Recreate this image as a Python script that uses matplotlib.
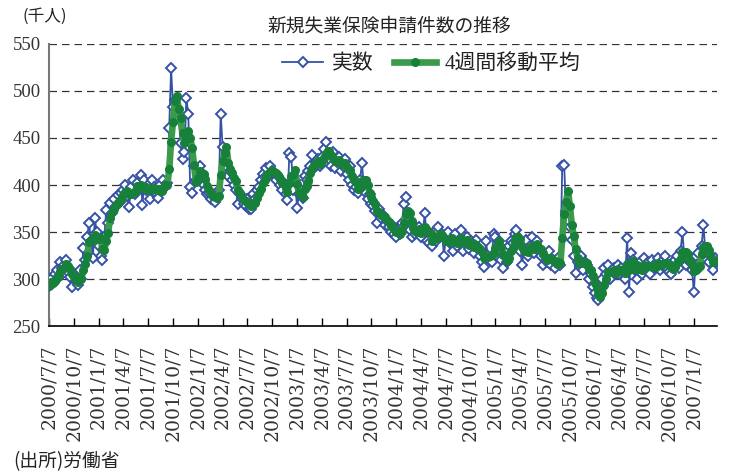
import numpy as np
import pandas as pd
import matplotlib.pyplot as plt

# weekly initial claims (thousand persons), 2000/7/7 onward
q2000_07 = [293, 300, 296, 305, 310, 302, 318, 312, 315, 320, 308, 302, 292]
q2000_10 = [305, 298, 294, 310, 300, 333, 320, 345, 360, 340, 322, 365, 350]
q2001_01 = [335, 325, 320, 345, 373, 360, 381, 370, 385, 378, 389, 382, 392]
q2001_04 = [395, 400, 388, 377, 398, 405, 390, 402, 396, 411, 379, 405, 395]
q2001_07 = [400, 385, 405, 398, 392, 386, 400, 395, 405, 398, 402, 461, 524]
q2001_10 = [483, 490, 480, 470, 445, 428, 435, 493, 475, 398, 391, 420, 405]
q2002_01 = [415, 420, 410, 400, 395, 390, 392, 385, 388, 382, 390, 395, 476]
q2002_04 = [440, 425, 420, 410, 415, 405, 400, 395, 380, 390, 385, 380, 378]
q2002_07 = [385, 375, 374, 390, 385, 395, 398, 405, 412, 408, 418, 410, 420]
q2002_10 = [415, 412, 405, 410, 400, 395, 402, 390, 384, 434, 430, 395, 405]
q2003_01 = [376, 390, 395, 386, 410, 405, 415, 420, 432, 418, 425, 428, 420]
q2003_04 = [430, 438, 446, 432, 428, 420, 435, 418, 425, 430, 415, 420, 428]
q2003_07 = [412, 405, 420, 400, 395, 398, 392, 405, 423, 400, 392, 385, 390]
q2003_10 = [380, 378, 372, 360, 375, 365, 368, 358, 362, 355, 350, 358, 348]
q2004_01 = [345, 352, 348, 360, 380, 387, 362, 352, 345, 358, 348, 350, 355]
q2004_04 = [345, 352, 370, 340, 338, 348, 335, 350, 340, 355, 345, 348, 325]
q2004_07 = [345, 350, 338, 342, 330, 348, 335, 340, 352, 330, 338, 345, 332]
q2004_10 = [340, 335, 328, 342, 332, 325, 318, 313, 340, 325, 320, 318, 348]
q2005_01 = [345, 330, 340, 320, 312, 325, 318, 335, 340, 338, 348, 352, 340]
q2005_04 = [330, 315, 335, 342, 325, 330, 345, 328, 335, 340, 330, 325, 315]
q2005_07 = [325, 318, 330, 315, 320, 312, 318, 322, 315, 420, 421, 372, 362]
q2005_10 = [355, 342, 325, 306, 318, 320, 325, 310, 318, 315, 300, 305, 292]
q2006_01 = [285, 280, 278, 283, 300, 312, 305, 315, 300, 310, 312, 305, 315]
q2006_04 = [305, 312, 308, 300, 344, 286, 328, 320, 310, 300, 315, 318, 305]
q2006_07 = [322, 310, 318, 305, 320, 315, 312, 322, 310, 318, 314, 325, 312]
q2006_10 = [308, 305, 318, 320, 325, 312, 330, 350, 322, 315, 320, 318, 310]
q2007_01 = [286, 325, 328, 318, 335, 357, 330, 320, 318, 325, 310, 322, 318]

tick_labels = ['2000/7/7', '2000/10/7',
               '2001/1/7', '2001/4/7', '2001/7/7', '2001/10/7',
               '2002/1/7', '2002/4/7', '2002/7/7', '2002/10/7',
               '2003/1/7', '2003/4/7', '2003/7/7', '2003/10/7',
               '2004/1/7', '2004/4/7', '2004/7/7', '2004/10/7',
               '2005/1/7', '2005/4/7', '2005/7/7', '2005/10/7',
               '2006/1/7', '2006/4/7', '2006/7/7', '2006/10/7',
               '2007/1/7']

actual = (q2000_07 + q2000_10 + q2001_01 + q2001_04 + q2001_07 + q2001_10 +
          q2002_01 + q2002_04 + q2002_07 + q2002_10 + q2003_01 + q2003_04 +
          q2003_07 + q2003_10 + q2004_01 + q2004_04 + q2004_07 + q2004_10 +
          q2005_01 + q2005_04 + q2005_07 + q2005_10 + q2006_01 + q2006_04 +
          q2006_07 + q2006_10 + q2007_01)

s = pd.Series(actual, dtype=float)
ma4 = s.rolling(4, min_periods=1).mean()  # 4週間移動平均
x = np.arange(len(s))

serif = ['Liberation Serif', 'Noto Sans CJK JP']
jp = ['Noto Sans CJK JP', 'DejaVu Sans']

fig = plt.figure(figsize=(7.49, 4.72), dpi=100)
ax = fig.add_axes([0.0654, 0.309, 0.8916, 0.598])

ax.plot(x, s, color='#3552A6', lw=1.3, marker='D', ms=5.3,
        mfc='white', mec='#3552A6', mew=1.4, label='実数', zorder=3)
ax.plot(x, ma4, color='#3C9B4B', lw=4.8, marker='o', ms=5.5,
        mfc='#17803A', mec='#17803A', label='4週間移動平均', zorder=4)

ax.set_xlim(0, len(s) - 1)
ax.set_ylim(250, 550)
ax.set_yticks(range(250, 551, 50))
ax.set_xticks(x[::13])
ax.set_xticklabels(tick_labels, rotation=90, family='DejaVu Serif',
                   fontsize=13.5, color='#333333')
for lab in ax.get_yticklabels():
    lab.set_family(serif)
    lab.set_fontsize(13.5)
    lab.set_color('#333333')

ax.grid(axis='y', color='#333333', linestyle=(0, (6, 4)), lw=0.9)
ax.tick_params(axis='x', direction='in', length=6, width=1, pad=13)
ax.tick_params(axis='y', direction='out', length=0, pad=6)
ax.spines['top'].set_visible(False)
ax.spines['right'].set_visible(False)
ax.spines['left'].set_color('#777777')
ax.spines['left'].set_linewidth(1.5)
ax.spines['bottom'].set_linewidth(1.2)

leg = ax.legend(loc='upper center', bbox_to_anchor=(0.572, 1.03), ncol=2,
                frameon=False, prop={'family': serif, 'size': 15},
                handlelength=2.0, columnspacing=1.0, handletextpad=0.4)
for t in leg.get_texts():
    t.set_color('#222222')

fig.text(0.52, 0.945, '新規失業保険申請件数の推移', ha='center', va='center',
         family=jp, fontsize=13.5, color='#222222')
fig.text(0.03, 0.965, '(千人)', ha='left', va='center', family=jp,
         fontsize=12, color='#222222')
fig.text(0.018, 0.022, '(出所)労働省', ha='left', va='center', family=jp,
         fontsize=13.5, color='#222222')

fig.savefig('out.png', dpi=100)
